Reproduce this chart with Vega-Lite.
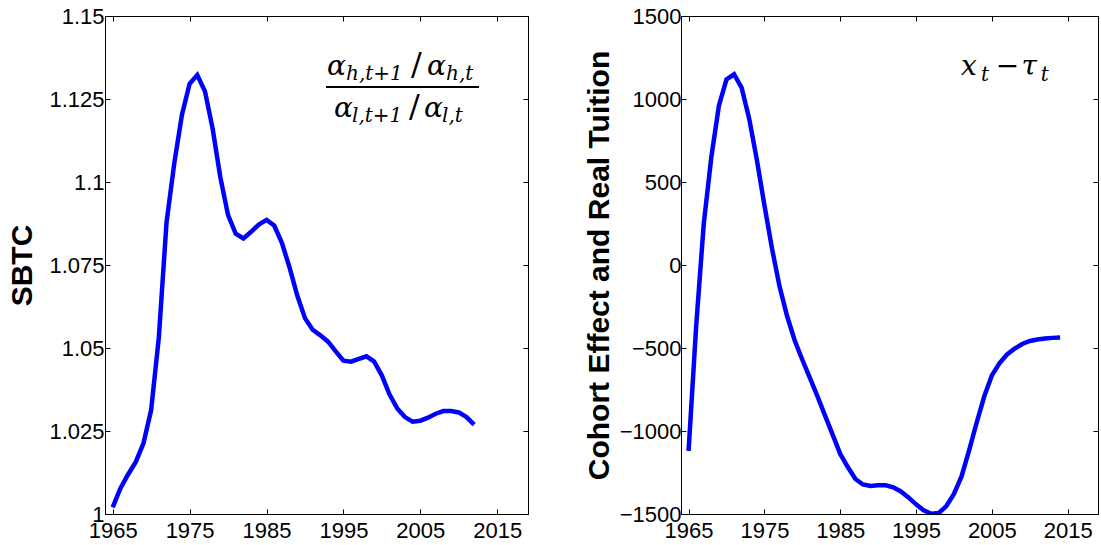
{
  "$schema": "https://vega.github.io/schema/vega-lite/v6.json",
  "background": "white",
  "padding": {"left": 6, "top": 4, "right": 2, "bottom": 2},
  "spacing": 54,
  "config": {
    "font": "Liberation Sans",
    "view": {"stroke": "black", "strokeWidth": 1},
    "axis": {
      "grid": false,
      "labelFont": "Liberation Sans",
      "labelFontSize": 22,
      "labelColor": "black",
      "labelFlush": false,
      "labelOverlap": false,
      "tickColor": "black",
      "tickSize": -5,
      "tickWidth": 1,
      "domainColor": "black",
      "titleFont": "Liberation Sans",
      "titleFontSize": 30,
      "titleFontWeight": "bold",
      "titleColor": "black"
    }
  },
  "datasets": {
    "sbtc": [
      {"year": 1965, "v": 1.002}, {"year": 1966, "v": 1.0077}, {"year": 1967, "v": 1.0119},
      {"year": 1968, "v": 1.0157}, {"year": 1969, "v": 1.0213}, {"year": 1970, "v": 1.0313},
      {"year": 1971, "v": 1.0532}, {"year": 1972, "v": 1.0878}, {"year": 1973, "v": 1.1055},
      {"year": 1974, "v": 1.1202}, {"year": 1975, "v": 1.1296}, {"year": 1976, "v": 1.1322},
      {"year": 1977, "v": 1.1273}, {"year": 1978, "v": 1.116}, {"year": 1979, "v": 1.1014},
      {"year": 1980, "v": 1.09}, {"year": 1981, "v": 1.0844}, {"year": 1982, "v": 1.083},
      {"year": 1983, "v": 1.085}, {"year": 1984, "v": 1.0872}, {"year": 1985, "v": 1.0886},
      {"year": 1986, "v": 1.0869}, {"year": 1987, "v": 1.0817}, {"year": 1988, "v": 1.0742},
      {"year": 1989, "v": 1.0658}, {"year": 1990, "v": 1.059}, {"year": 1991, "v": 1.0555},
      {"year": 1992, "v": 1.0538}, {"year": 1993, "v": 1.0519}, {"year": 1994, "v": 1.049},
      {"year": 1995, "v": 1.0462}, {"year": 1996, "v": 1.0459}, {"year": 1997, "v": 1.0467},
      {"year": 1998, "v": 1.0475}, {"year": 1999, "v": 1.0459}, {"year": 2000, "v": 1.0417},
      {"year": 2001, "v": 1.036}, {"year": 2002, "v": 1.0318}, {"year": 2003, "v": 1.0292},
      {"year": 2004, "v": 1.0278}, {"year": 2005, "v": 1.0281}, {"year": 2006, "v": 1.029},
      {"year": 2007, "v": 1.0302}, {"year": 2008, "v": 1.031}, {"year": 2009, "v": 1.031},
      {"year": 2010, "v": 1.0306}, {"year": 2011, "v": 1.0292}, {"year": 2012, "v": 1.0269}
    ],
    "cohort": [
      {"year": 1965, "v": -1120}, {"year": 1966, "v": -370}, {"year": 1967, "v": 247},
      {"year": 1968, "v": 650}, {"year": 1969, "v": 960}, {"year": 1970, "v": 1118},
      {"year": 1971, "v": 1149}, {"year": 1972, "v": 1068}, {"year": 1973, "v": 880},
      {"year": 1974, "v": 635}, {"year": 1975, "v": 360}, {"year": 1976, "v": 100},
      {"year": 1977, "v": -130}, {"year": 1978, "v": -309}, {"year": 1979, "v": -455},
      {"year": 1980, "v": -571}, {"year": 1981, "v": -680}, {"year": 1982, "v": -791},
      {"year": 1983, "v": -907}, {"year": 1984, "v": -1022}, {"year": 1985, "v": -1138},
      {"year": 1986, "v": -1217}, {"year": 1987, "v": -1289}, {"year": 1988, "v": -1322},
      {"year": 1989, "v": -1331}, {"year": 1990, "v": -1327}, {"year": 1991, "v": -1327},
      {"year": 1992, "v": -1339}, {"year": 1993, "v": -1364}, {"year": 1994, "v": -1400},
      {"year": 1995, "v": -1442}, {"year": 1996, "v": -1478}, {"year": 1997, "v": -1499},
      {"year": 1998, "v": -1494}, {"year": 1999, "v": -1452}, {"year": 2000, "v": -1379},
      {"year": 2001, "v": -1274}, {"year": 2002, "v": -1117}, {"year": 2003, "v": -949},
      {"year": 2004, "v": -791}, {"year": 2005, "v": -665}, {"year": 2006, "v": -592},
      {"year": 2007, "v": -539}, {"year": 2008, "v": -504}, {"year": 2009, "v": -476},
      {"year": 2010, "v": -458}, {"year": 2011, "v": -449}, {"year": 2012, "v": -443},
      {"year": 2013, "v": -439}, {"year": 2014, "v": -437}
    ],
    "leftBar": [{"x": 1992.74, "x2": 2012.63, "y": 1.128614}],
    "leftMain": [
      {"x": 1992.87, "y": 1.13223, "t": "α"}, {"x": 2005.87, "y": 1.13223, "t": "α"},
      {"x": 1993.78, "y": 1.119578, "t": "α"}, {"x": 2005.48, "y": 1.119578, "t": "α"}
    ],
    "leftSub": [
      {"x": 1995.34, "y": 1.130723, "t": "h,t+1"}, {"x": 2008.34, "y": 1.130723, "t": "h,t"},
      {"x": 1996.12, "y": 1.118072, "t": "l,t+1"}, {"x": 2007.82, "y": 1.118072, "t": "l,t"}
    ],
    "leftSlash": [
      {"x": 2003.79, "y": 1.13223, "t": "/"}, {"x": 2003.53, "y": 1.119578, "t": "/"}
    ],
    "rightMain": [
      {"x": 2000.94, "y": 1144.6, "t": "x"}, {"x": 2008.9, "y": 1144.6, "t": "τ"}
    ],
    "rightOp": [{"x": 2005.5, "y": 1144.6, "t": "−"}],
    "rightSub": [
      {"x": 2003.58, "y": 1108.4, "t": "t"}, {"x": 2011.45, "y": 1108.4, "t": "t"}
    ]
  },
  "hconcat": [
    {
      "width": 423,
      "height": 498,
      "layer": [
        {
          "data": {"name": "sbtc"},
          "mark": {"type": "line", "color": "#0000ff", "strokeWidth": 4.5, "clip": true},
          "encoding": {
            "x": {"field": "year", "type": "quantitative",
              "scale": {"domain": [1964, 2019], "nice": false, "zero": false},
              "axis": {"orient": "bottom", "values": [1965, 1975, 1985, 1995, 2005, 2015], "format": "d", "title": null, "labelPadding": 11}},
            "y": {"field": "v", "type": "quantitative",
              "scale": {"domain": [1, 1.15], "nice": false, "zero": false},
              "axis": {"orient": "left", "values": [1, 1.025, 1.05, 1.075, 1.1, 1.125, 1.15], "format": ".4~g", "title": "SBTC", "labelPadding": 6, "minExtent": 58, "maxExtent": 58, "titlePadding": 10}}
          }
        },
        {
          "data": {"name": "leftBar"},
          "mark": {"type": "rule", "color": "black", "strokeWidth": 2},
          "encoding": {
            "x": {"field": "x", "type": "quantitative",
              "axis": {"orient": "top", "values": [1965, 1975, 1985, 1995, 2005, 2015], "labels": false, "title": null, "domain": false}},
            "x2": {"field": "x2"},
            "y": {"field": "y", "type": "quantitative",
              "axis": {"orient": "right", "values": [1, 1.025, 1.05, 1.075, 1.1, 1.125, 1.15], "labels": false, "title": null, "domain": false}}
          }
        },
        {
          "data": {"name": "leftMain"},
          "mark": {"type": "text", "font": "DejaVu Serif", "fontStyle": "italic", "fontSize": 28, "align": "left", "baseline": "alphabetic", "color": "black"},
          "encoding": {
            "x": {"field": "x", "type": "quantitative", "axis": null},
            "y": {"field": "y", "type": "quantitative", "axis": null},
            "text": {"field": "t"}
          }
        },
        {
          "data": {"name": "leftSub"},
          "mark": {"type": "text", "font": "DejaVu Serif", "fontStyle": "italic", "fontSize": 20, "align": "left", "baseline": "alphabetic", "color": "black"},
          "encoding": {
            "x": {"field": "x", "type": "quantitative", "axis": null},
            "y": {"field": "y", "type": "quantitative", "axis": null},
            "text": {"field": "t"}
          }
        },
        {
          "data": {"name": "leftSlash"},
          "mark": {"type": "text", "font": "DejaVu Serif", "fontSize": 32, "align": "left", "baseline": "alphabetic", "color": "black"},
          "encoding": {
            "x": {"field": "x", "type": "quantitative", "axis": null},
            "y": {"field": "y", "type": "quantitative", "axis": null},
            "text": {"field": "t"}
          }
        }
      ],
      "resolve": {"axis": {"x": "independent", "y": "independent"}}
    },
    {
      "width": 417,
      "height": 498,
      "layer": [
        {
          "data": {"name": "cohort"},
          "mark": {"type": "line", "color": "#0000ff", "strokeWidth": 4.5, "clip": true},
          "encoding": {
            "x": {"field": "year", "type": "quantitative",
              "scale": {"domain": [1964, 2019], "nice": false, "zero": false},
              "axis": {"orient": "bottom", "values": [1965, 1975, 1985, 1995, 2005, 2015], "format": "d", "title": null, "labelPadding": 11}},
            "y": {"field": "v", "type": "quantitative",
              "scale": {"domain": [-1500, 1500], "nice": false, "zero": false},
              "axis": {"orient": "left", "values": [-1500, -1000, -500, 0, 500, 1000, 1500], "format": "d", "title": "Cohort Effect and Real Tuition", "labelPadding": 5, "minExtent": 58, "maxExtent": 58, "titlePadding": 9}}
          }
        },
        {
          "data": {"name": "rightMain"},
          "mark": {"type": "text", "font": "DejaVu Serif", "fontStyle": "italic", "fontSize": 28, "align": "left", "baseline": "alphabetic", "color": "black"},
          "encoding": {
            "x": {"field": "x", "type": "quantitative",
              "axis": {"orient": "top", "values": [1965, 1975, 1985, 1995, 2005, 2015], "labels": false, "title": null, "domain": false}},
            "y": {"field": "y", "type": "quantitative",
              "axis": {"orient": "right", "values": [-1500, -1000, -500, 0, 500, 1000, 1500], "labels": false, "title": null, "domain": false}},
            "text": {"field": "t"}
          }
        },
        {
          "data": {"name": "rightOp"},
          "mark": {"type": "text", "font": "DejaVu Serif", "fontSize": 28, "align": "left", "baseline": "alphabetic", "color": "black"},
          "encoding": {
            "x": {"field": "x", "type": "quantitative", "axis": null},
            "y": {"field": "y", "type": "quantitative", "axis": null},
            "text": {"field": "t"}
          }
        },
        {
          "data": {"name": "rightSub"},
          "mark": {"type": "text", "font": "DejaVu Serif", "fontStyle": "italic", "fontSize": 20, "align": "left", "baseline": "alphabetic", "color": "black"},
          "encoding": {
            "x": {"field": "x", "type": "quantitative", "axis": null},
            "y": {"field": "y", "type": "quantitative", "axis": null},
            "text": {"field": "t"}
          }
        }
      ],
      "resolve": {"axis": {"x": "independent", "y": "independent"}}
    }
  ]
}
